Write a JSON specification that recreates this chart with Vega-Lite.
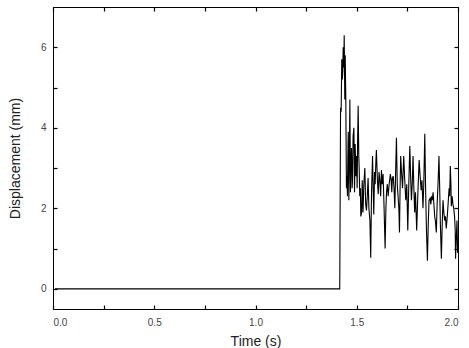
{
  "$schema": "https://vega.github.io/schema/vega-lite/v6.json",
  "width": 405,
  "height": 302,
  "autosize": "none",
  "padding": {"left": 53, "top": 7, "right": 11, "bottom": 39},
  "background": "white",
  "config": {
    "view": {"stroke": "black", "strokeWidth": 1},
    "axis": {
      "domainColor": "black",
      "domainWidth": 1,
      "tickColor": "black",
      "tickWidth": 1.2,
      "tickSize": -4,
      "grid": false,
      "labelFont": "Liberation Sans",
      "titleFont": "Liberation Sans",
      "labelFontSize": 10,
      "labelColor": "#444",
      "titleFontSize": 14,
      "titleFontWeight": "normal",
      "titleColor": "#222"
    }
  },
  "data": {
    "values": [
      {"t": 0.01, "v": 0}, {"t": 1.416, "v": 0}, {"t": 1.417, "v": 1.1}, {"t": 1.42, "v": 4.5},
      {"t": 1.423, "v": 4.4}, {"t": 1.426, "v": 5.7}, {"t": 1.429, "v": 5.2}, {"t": 1.431, "v": 5.4},
      {"t": 1.433, "v": 6.0}, {"t": 1.436, "v": 5.5}, {"t": 1.438, "v": 6.3}, {"t": 1.441, "v": 4.7},
      {"t": 1.443, "v": 5.8}, {"t": 1.446, "v": 4.7}, {"t": 1.449, "v": 2.5}, {"t": 1.452, "v": 2.8},
      {"t": 1.454, "v": 2.3}, {"t": 1.456, "v": 3.3}, {"t": 1.458, "v": 3.9}, {"t": 1.461, "v": 2.2},
      {"t": 1.463, "v": 3.0}, {"t": 1.466, "v": 4.7}, {"t": 1.469, "v": 2.4}, {"t": 1.471, "v": 3.1},
      {"t": 1.474, "v": 3.5}, {"t": 1.477, "v": 2.5}, {"t": 1.479, "v": 2.7}, {"t": 1.482, "v": 3.8},
      {"t": 1.486, "v": 4.0}, {"t": 1.489, "v": 2.4}, {"t": 1.492, "v": 3.6}, {"t": 1.496, "v": 2.8},
      {"t": 1.499, "v": 3.3}, {"t": 1.502, "v": 2.5}, {"t": 1.504, "v": 3.6}, {"t": 1.507, "v": 4.55},
      {"t": 1.51, "v": 3.3}, {"t": 1.512, "v": 3.0}, {"t": 1.515, "v": 2.3}, {"t": 1.518, "v": 2.5},
      {"t": 1.52, "v": 1.8}, {"t": 1.524, "v": 1.9}, {"t": 1.527, "v": 2.7}, {"t": 1.531, "v": 1.9},
      {"t": 1.535, "v": 2.6}, {"t": 1.54, "v": 3.0}, {"t": 1.544, "v": 2.1}, {"t": 1.548, "v": 1.95},
      {"t": 1.552, "v": 2.3}, {"t": 1.556, "v": 2.75}, {"t": 1.56, "v": 2.0}, {"t": 1.565, "v": 1.7},
      {"t": 1.569, "v": 0.77}, {"t": 1.573, "v": 2.4}, {"t": 1.578, "v": 3.3}, {"t": 1.581, "v": 2.5},
      {"t": 1.584, "v": 1.85}, {"t": 1.588, "v": 2.9}, {"t": 1.591, "v": 2.6}, {"t": 1.594, "v": 3.1},
      {"t": 1.597, "v": 3.45}, {"t": 1.602, "v": 2.7}, {"t": 1.606, "v": 2.35}, {"t": 1.61, "v": 2.9},
      {"t": 1.614, "v": 2.7}, {"t": 1.618, "v": 2.3}, {"t": 1.622, "v": 2.95}, {"t": 1.626, "v": 2.6},
      {"t": 1.63, "v": 2.85}, {"t": 1.635, "v": 2.0}, {"t": 1.64, "v": 1.0}, {"t": 1.644, "v": 2.0},
      {"t": 1.647, "v": 2.4}, {"t": 1.651, "v": 2.6}, {"t": 1.655, "v": 2.3}, {"t": 1.66, "v": 2.6},
      {"t": 1.666, "v": 2.85}, {"t": 1.67, "v": 2.7}, {"t": 1.673, "v": 2.4}, {"t": 1.676, "v": 2.75},
      {"t": 1.68, "v": 2.8}, {"t": 1.684, "v": 2.5}, {"t": 1.688, "v": 2.0}, {"t": 1.692, "v": 2.9},
      {"t": 1.696, "v": 3.75}, {"t": 1.7, "v": 2.6}, {"t": 1.704, "v": 2.3}, {"t": 1.708, "v": 2.0},
      {"t": 1.711, "v": 1.4}, {"t": 1.714, "v": 2.5}, {"t": 1.717, "v": 3.3}, {"t": 1.721, "v": 2.9},
      {"t": 1.726, "v": 2.5}, {"t": 1.729, "v": 2.9}, {"t": 1.732, "v": 3.3}, {"t": 1.737, "v": 2.7},
      {"t": 1.742, "v": 2.2}, {"t": 1.747, "v": 2.6}, {"t": 1.752, "v": 1.45}, {"t": 1.757, "v": 2.6},
      {"t": 1.762, "v": 3.55}, {"t": 1.766, "v": 2.8}, {"t": 1.77, "v": 2.2}, {"t": 1.774, "v": 2.6},
      {"t": 1.778, "v": 3.3}, {"t": 1.782, "v": 2.5}, {"t": 1.786, "v": 1.9}, {"t": 1.79, "v": 2.4},
      {"t": 1.796, "v": 1.45}, {"t": 1.802, "v": 2.4}, {"t": 1.808, "v": 3.2}, {"t": 1.813, "v": 2.8},
      {"t": 1.818, "v": 2.45}, {"t": 1.822, "v": 2.7}, {"t": 1.827, "v": 2.0}, {"t": 1.831, "v": 2.6},
      {"t": 1.836, "v": 3.85}, {"t": 1.84, "v": 2.5}, {"t": 1.844, "v": 1.5}, {"t": 1.849, "v": 0.7},
      {"t": 1.853, "v": 1.6}, {"t": 1.857, "v": 2.2}, {"t": 1.862, "v": 2.25}, {"t": 1.866, "v": 2.1},
      {"t": 1.869, "v": 2.3}, {"t": 1.873, "v": 2.2}, {"t": 1.877, "v": 2.4}, {"t": 1.881, "v": 2.1},
      {"t": 1.885, "v": 1.8}, {"t": 1.889, "v": 1.65}, {"t": 1.893, "v": 1.4}, {"t": 1.897, "v": 2.1},
      {"t": 1.902, "v": 2.7}, {"t": 1.906, "v": 3.3}, {"t": 1.91, "v": 2.4}, {"t": 1.913, "v": 1.6},
      {"t": 1.918, "v": 0.75}, {"t": 1.922, "v": 1.6}, {"t": 1.926, "v": 2.2}, {"t": 1.93, "v": 1.9},
      {"t": 1.934, "v": 1.7}, {"t": 1.938, "v": 1.8}, {"t": 1.942, "v": 1.5}, {"t": 1.947, "v": 1.8},
      {"t": 1.951, "v": 2.1}, {"t": 1.956, "v": 2.5}, {"t": 1.959, "v": 2.3}, {"t": 1.962, "v": 3.05},
      {"t": 1.965, "v": 2.6}, {"t": 1.967, "v": 2.05}, {"t": 1.971, "v": 2.3}, {"t": 1.975, "v": 2.1},
      {"t": 1.979, "v": 2.0}, {"t": 1.983, "v": 1.8}, {"t": 1.986, "v": 1.5}, {"t": 1.988, "v": 0.75},
      {"t": 1.991, "v": 1.2}, {"t": 1.995, "v": 1.7}, {"t": 1.998, "v": 0.9}, {"t": 2.0, "v": 1.0}
    ]
  },
  "layer": [
    {
      "mark": {"type": "line", "color": "black", "strokeWidth": 1.1},
      "encoding": {
        "x": {
          "field": "t", "type": "quantitative",
          "scale": {"domain": [0, 2], "nice": false, "zero": false},
          "axis": {
            "orient": "bottom", "title": "Time (s)",
            "values": [0, 0.25, 0.5, 0.75, 1, 1.25, 1.5, 1.75, 2],
            "labelExpr": "datum.value % 0.5 === 0 ? format(datum.value, '.1f') : ''",
            "labelPadding": 12, "titlePadding": 7
          }
        },
        "y": {
          "field": "v", "type": "quantitative",
          "scale": {"domain": [-0.5, 7], "nice": false, "zero": false},
          "axis": {
            "orient": "left", "title": "Displacement (mm)",
            "values": [0, 1, 2, 3, 4, 5, 6],
            "labelExpr": "datum.value % 2 === 0 ? datum.label : ''",
            "labelPadding": 11, "titlePadding": 18
          }
        }
      }
    },
    {
      "mark": {"type": "line", "strokeOpacity": 0},
      "encoding": {
        "x": {
          "field": "t", "type": "quantitative",
          "axis": {"orient": "top", "title": null, "labels": false,
                   "values": [0, 0.25, 0.5, 0.75, 1, 1.25, 1.5, 1.75, 2]}
        },
        "y": {
          "field": "v", "type": "quantitative",
          "axis": {"orient": "right", "title": null, "labels": false,
                   "values": [0, 1, 2, 3, 4, 5, 6]}
        }
      }
    }
  ]
}
